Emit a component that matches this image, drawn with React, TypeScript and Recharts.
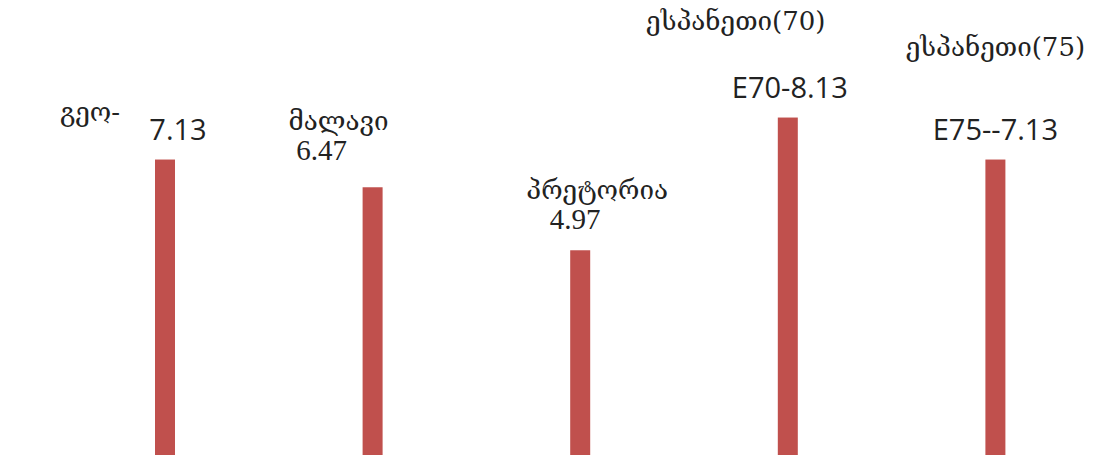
import React from "react";
import { BarChart, Bar, XAxis, YAxis } from "recharts";

const categories = ["გეო-", "მალავი", "პრეტორია", "ესპანეთი(70)", "ესპანეთი(75)"];
const values = [7.13, 6.47, 4.97, 8.13, 7.13];
const valueLabels = ["7.13", "6.47", "4.97", "E70-8.13", "E75--7.13"];

// label layout relative to bar top-center (style, not data)
const nameOffsets = [
  { dx: -75, dy: -39 },
  { dx: -34, dy: -57 },
  { dx: 17, dy: -51 },
  { dx: -52, dy: -88 },
  { dx: 0, dy: -104 },
];
const valueOffsets = [
  { dx: 13, dy: -20, serif: false },
  { dx: -51, dy: -27, serif: true },
  { dx: -5, dy: -21, serif: true },
  { dx: 2, dy: -20, serif: false },
  { dx: 0, dy: -20, serif: false },
];

const data = categories.map((c, i) => ({ name: c, value: values[i], label: valueLabels[i] }));

const BarWithLabels = (props: any) => {
  const { x, y, width, height, index, payload } = props;
  const cx = x + width / 2;
  const n = nameOffsets[index];
  const v = valueOffsets[index];
  return (
    <g>
      <rect x={x} y={y} width={width} height={height} fill="#C0504D" />
      <text
        x={cx + n.dx}
        y={y + n.dy}
        textAnchor="middle"
        style={{ fontFamily: "'DejaVu Serif', serif", fontSize: 26 }}
        fill="#222"
      >
        {payload.name}
      </text>
      <text
        x={cx + v.dx}
        y={y + v.dy}
        textAnchor="middle"
        style={{
          fontFamily: v.serif ? "'Liberation Serif', serif" : "'Open Sans', sans-serif",
          fontSize: 29,
        }}
        fill="#222"
      >
        {payload.label}
      </text>
    </g>
  );
};

export default function App() {
  return (
    <div
      style={{
        position: "absolute",
        left: 0,
        top: 0,
        width: 1101,
        height: 455,
        overflow: "hidden",
        background: "#fff",
      }}
    >
      <BarChart
        width={1101}
        height={470}
        data={data}
        margin={{ top: 39, right: 2, bottom: 11, left: 61 }}
      >
        <XAxis dataKey="name" hide />
        <YAxis domain={[0, 10]} hide />
        <Bar
          dataKey="value"
          barSize={20}
          fill="#C0504D"
          isAnimationActive={false}
          shape={BarWithLabels}
        />
      </BarChart>
    </div>
  );
}
